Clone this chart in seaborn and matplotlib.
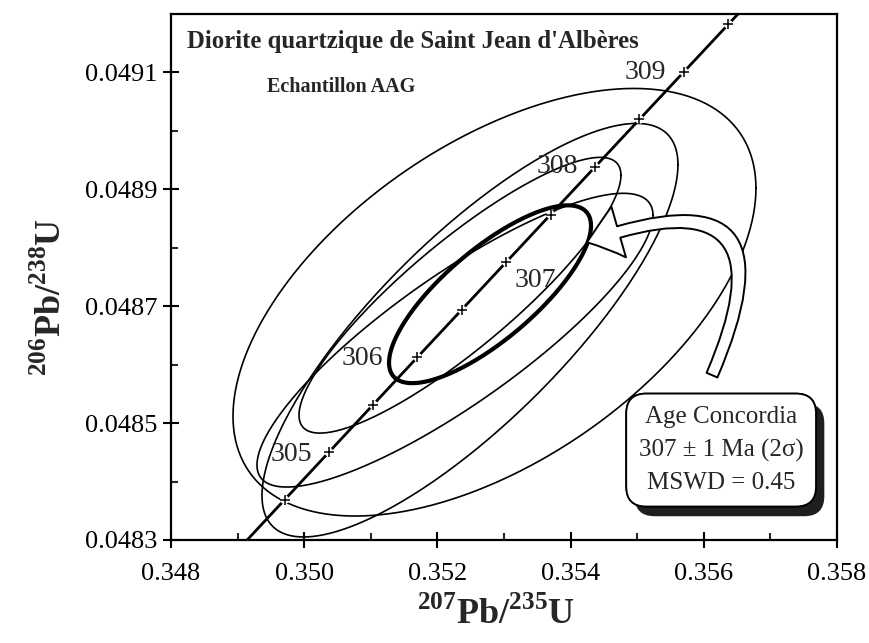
"""
Diagramme Concordia - Diorite quartzique de Saint Jean d'Alberes
"""
import numpy as np
import pandas as pd
import matplotlib
matplotlib.use("Agg")
import matplotlib.pyplot as plt
import matplotlib.patheffects as pe
from matplotlib.patches import FancyArrowPatch
from matplotlib.ticker import FixedLocator, FormatStrFormatter
import seaborn as sns


# Concordia : croix tous les 0.5 Ma
ages = [304.5, 305.0, 305.5, 306.0, 306.5, 307.0, 307.5, 308.0, 308.5, 309.0, 309.5]
conc_x = [0.349706, 0.350371, 0.351036, 0.351701, 0.352367, 0.353034,
          0.353700, 0.354367, 0.355034, 0.355701, 0.356369]
conc_y = [0.0483689, 0.0484503, 0.0485316, 0.0486129, 0.0486942, 0.0487756,
          0.0488569, 0.0489383, 0.0490197, 0.0491010, 0.0491824]
# prolongement de la courbe (303.5 et 310.5 Ma), coupe par les axes
line_x = [0.348378] + conc_x + [0.357705]
line_y = [0.0482063] + conc_y + [0.0493452]

# etiquettes des ages et decalage (points)
label_ages = [305.0, 306.0, 307.0, 308.0, 309.0]
label_dx = [-27, -40, 21, -27, -28]
label_dy = [-1.5, -0.7, -13, 0, -0.7]

# graduations
x_major = [0.348, 0.350, 0.352, 0.354, 0.356, 0.358]
x_minor = [0.349, 0.351, 0.353, 0.355, 0.357]
y_major = [0.0483, 0.0485, 0.0487, 0.0489, 0.0491]
y_minor = [0.0484, 0.0486, 0.0488, 0.0490]

# Ellipses d'erreur des analyses (2 sigma)
ell_cx = [0.352857, 0.352489, 0.352339, 0.352264]
ell_cy = [0.0487068, 0.0486590, 0.0487188, 0.0486419]
ell_sx = [0.003926, 0.003123, 0.002417, 0.002973]
ell_sy = [0.0003658, 0.0003538, 0.0002359, 0.0002513]
ell_rho = [0.533, 0.80, 0.87, 0.85]

# Ellipse de l'age concordia (trait gras)
mean_cx = [0.352790]
mean_cy = [0.0487205]
mean_sx = [0.0015165]
mean_sy = [0.00015214]
mean_rho = [0.77]


def ellipses(cx, cy, sx, sy, rho):
    t = np.linspace(0, 2 * np.pi, 361)
    parts = []
    for i in range(len(cx)):
        ex = cx[i] + sx[i] * np.cos(t)
        ey = cy[i] + sy[i] * (rho[i] * np.cos(t) + np.sqrt(1 - rho[i] ** 2) * np.sin(t))
        parts.append(pd.DataFrame({"x": ex, "y": ey, "id": i}))
    return pd.concat(parts, ignore_index=True)


sns.set_theme(style="white")
plt.rcParams["font.family"] = ["Liberation Serif", "DejaVu Serif"]
plt.rcParams["mathtext.fontset"] = "custom"
plt.rcParams["mathtext.rm"] = "Liberation Serif"
plt.rcParams["mathtext.bf"] = "Liberation Serif:bold"

fig = plt.figure(figsize=(8.7, 6.43), dpi=100)
ax = fig.add_axes([171 / 870, 103 / 643, 666 / 870, 526 / 643])

sns.lineplot(data=ellipses(ell_cx, ell_cy, ell_sx, ell_sy, ell_rho), x="x", y="y",
             units="id", estimator=None, sort=False, color="black", lw=1.2, ax=ax)
sns.lineplot(data=ellipses(mean_cx, mean_cy, mean_sx, mean_sy, mean_rho), x="x", y="y",
             units="id", estimator=None, sort=False, color="black", lw=3.0, ax=ax)

# courbe concordia
sns.lineplot(x=line_x, y=line_y, sort=False, estimator=None, color="black", lw=2.0,
             ax=ax, zorder=3)
sns.scatterplot(x=conc_x, y=conc_y, s=40, color="white", edgecolor="none", ax=ax, zorder=4)
sns.scatterplot(x=conc_x, y=conc_y, marker="+", s=45, color="black", linewidth=1.1,
                ax=ax, zorder=5)

for a, dx, dy in zip(label_ages, label_dx, label_dy):
    i = ages.index(a)
    ax.annotate(f"{a:.0f}", xy=(conc_x[i], conc_y[i]), xytext=(dx, dy),
                textcoords="offset points", ha="center", va="center", fontsize=20, zorder=6)

# fleche creuse vers l'ellipse gras
arrow = FancyArrowPatch(posA=(0.356123, 0.0485821), posB=(0.354246, 0.0488094),
                        arrowstyle="simple,head_length=24,head_width=38,tail_width=8.5",
                        connectionstyle="arc3,rad=1.15", mutation_scale=1,
                        shrinkA=0, shrinkB=0, fc="white", ec="black", lw=1.4, zorder=7)
ax.add_patch(arrow)

# encadre du resultat
box = ax.text(0.826, 0.171, "Age Concordia\n307 ± 1 Ma (2σ)\nMSWD = 0.45",
              transform=ax.transAxes, ha="center", va="center", fontsize=18,
              linespacing=1.6, zorder=8,
              bbox=dict(boxstyle="round,pad=0.5,rounding_size=0.8", fc="white",
                        ec="black", lw=1.3))
box.get_bbox_patch().set_path_effects([
    pe.withSimplePatchShadow(offset=(6, -7), shadow_rgbFace="0.12", alpha=1.0),
    pe.Normal()])

ax.text(0.024, 0.935, "Diorite quartzique de Saint Jean d'Albères", transform=ax.transAxes,
        fontsize=17.8, fontweight="bold", va="baseline", ha="left")
ax.text(0.144, 0.852, "Echantillon AAG", transform=ax.transAxes,
        fontsize=14.5, fontweight="bold", va="baseline", ha="left")

ax.set_xlim(0.348, 0.358)
ax.set_ylim(0.0483, 0.0492)
ax.xaxis.set_major_locator(FixedLocator(x_major))
ax.xaxis.set_minor_locator(FixedLocator(x_minor))
ax.yaxis.set_major_locator(FixedLocator(y_major))
ax.yaxis.set_minor_locator(FixedLocator(y_minor))
ax.xaxis.set_major_formatter(FormatStrFormatter("%.3f"))
ax.yaxis.set_major_formatter(FormatStrFormatter("%.4f"))
ax.tick_params(which="major", direction="inout", length=11, width=1.5, labelsize=19,
               color="black", labelcolor="black", bottom=True, left=True)
ax.tick_params(which="minor", direction="in", length=5, width=1.5, bottom=True, left=True)
ax.tick_params(axis="x", which="major", pad=11)
ax.tick_params(axis="y", which="major", pad=4.5)
for s in ax.spines.values():
    s.set_color("black")
    s.set_linewidth(1.6)

ax.set_xlabel(r"$^{\mathbf{207}}\mathbf{Pb/}^{\mathbf{235}}\mathbf{U}$", fontsize=26)
ax.set_ylabel(r"$^{\mathbf{206}}\mathbf{Pb/}^{\mathbf{238}}\mathbf{U}$", fontsize=26)
ax.xaxis.set_label_coords(0.488, -0.108)
ax.yaxis.set_label_coords(-0.153, 0.462)

fig.savefig("out.png", dpi=100)
